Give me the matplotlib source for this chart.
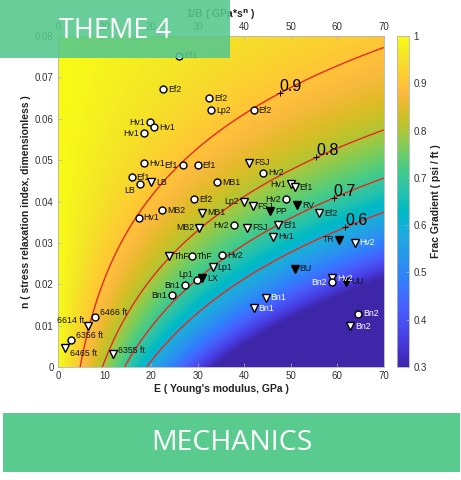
import numpy as np
import matplotlib
matplotlib.use("Agg")
import matplotlib.pyplot as plt
from matplotlib.colors import LinearSegmentedColormap
from matplotlib.patches import Rectangle

plt.rcParams['font.family'] = ['Liberation Sans', 'DejaVu Sans']

# ---------------- data ----------------
labels = ["Ef1", "Ef2", "Ef2", "Lp2", "Ef2", "Hv1", "Hv1", "Hv1", "Hv1", "Ef1",
          "Ef1", "FSJ", "Hv2", "Ef1", "LB", "LB", "MB1", "Hv1", "Ef1", "Ef2",
          "Lp2", "FSJ", "Hv2", "PP", "RV", "Ef2", "MB2", "MB1", "Hv1", "MB2",
          "Hv2", "FSJ", "Ef1", "Hv1", "TR", "Hv2", "ThF", "ThF", "Hv2", "Lp1",
          "LX", "Lp1", "Bn1", "Bn1", "BU", "Hv2", "Bn2", "UU", "Bn1", "Bn1",
          "Bn2", "Bn2", "6466 ft", "6614 ft", "6356 ft", "6465 ft", "6355 ft"]
E_vals = [26.0, 22.6, 32.4, 32.8, 42.0, 19.7, 20.7, 18.5, 18.5, 26.8,
          30.0, 41.0, 44.0, 15.8, 17.5, 20.0, 34.1, 50.1, 50.8, 29.3,
          39.9, 41.8, 49.0, 45.6, 51.4, 56.0, 22.4, 31.0, 17.3, 30.3,
          37.8, 40.6, 47.2, 46.2, 60.4, 63.7, 23.8, 28.7, 35.3, 33.2,
          31.0, 29.8, 27.3, 24.5, 50.8, 58.8, 58.8, 61.9, 44.6, 42.0,
          64.5, 62.8, 8.0, 6.4, 2.85, 1.4, 11.9]
n_vals = [0.0752, 0.0671, 0.0650, 0.0621, 0.0621, 0.0591, 0.0579, 0.0565, 0.0493, 0.0488,
          0.0488, 0.0494, 0.0470, 0.0459, 0.0442, 0.0446, 0.0446, 0.0442, 0.0435, 0.0405,
          0.0399, 0.0389, 0.0405, 0.0377, 0.0391, 0.0371, 0.0379, 0.0373, 0.0361, 0.0337,
          0.0343, 0.0337, 0.0343, 0.0315, 0.0308, 0.0300, 0.0268, 0.0268, 0.0270, 0.0241,
          0.0215, 0.0211, 0.0197, 0.0174, 0.0238, 0.0215, 0.0205, 0.0206, 0.0167, 0.0142,
          0.0129, 0.0098, 0.0121, 0.0100, 0.0066, 0.0045, 0.0031]
# o = open circle, v = open triangle, V = filled triangle
kinds = ["o", "o", "o", "o", "o", "o", "o", "o", "o", "o",
         "o", "v", "o", "o", "o", "v", "o", "v", "v", "o",
         "v", "v", "o", "V", "V", "v", "o", "v", "o", "v",
         "o", "v", "v", "v", "V", "v", "v", "o", "o", "v",
         "V", "o", "o", "o", "V", "v", "o", "V", "v", "v",
         "o", "v", "o", "v", "o", "v", "v"]

contour_levels = [0.6, 0.7, 0.8, 0.9]
contour_label_E = [61.7, 59.2, 55.5, 47.6]
fg_slope = 0.021
relax_const = 34.8

cbar_ticks = [0.3, 0.4, 0.5, 0.6, 0.7, 0.8, 0.9, 1.0]
cbar_ticklabels = ["0.3", "0.4", "0.5", "0.6", "0.7", "0.8", "0.9", "1"]
x_ticks = [0, 10, 20, 30, 40, 50, 60, 70]
y_ticks = [0, 0.01, 0.02, 0.03, 0.04, 0.05, 0.06, 0.07, 0.08]
y_ticklabels = ["0", "0.01", "0.02", "0.03", "0.04", "0.05", "0.06", "0.07", "0.08"]

# ---------------- styles ----------------
label_side = ["r", "r", "r", "r", "r", "l", "r", "l", "r", "l",
              "r", "r", "r", "r", "ld", "r", "r", "l", "r", "r",
              "l", "r", "l", "r", "r", "r", "r", "r", "r", "l",
              "l", "r", "r", "r", "l", "r", "r", "r", "r", "r",
              "r", "lu", "l", "l", "r", "r", "l", "r", "r", "r",
              "r", "r", "ru", "lu", "ru", "rd", "ru"]
white_label = {35, 45, 46, 48, 49, 50, 51}

parula = [
    [0.2422, 0.1504, 0.6603], [0.2504, 0.1650, 0.7076], [0.2578, 0.1818, 0.7511],
    [0.2647, 0.1978, 0.7952], [0.2706, 0.2147, 0.8364], [0.2751, 0.2342, 0.8710],
    [0.2783, 0.2559, 0.8991], [0.2803, 0.2782, 0.9221], [0.2813, 0.3006, 0.9414],
    [0.2810, 0.3228, 0.9579], [0.2795, 0.3447, 0.9717], [0.2760, 0.3667, 0.9829],
    [0.2699, 0.3892, 0.9906], [0.2602, 0.4123, 0.9952], [0.2440, 0.4358, 0.9988],
    [0.2206, 0.4603, 0.9973], [0.1963, 0.4847, 0.9892], [0.1834, 0.5074, 0.9798],
    [0.1786, 0.5289, 0.9682], [0.1764, 0.5499, 0.9520], [0.1687, 0.5703, 0.9359],
    [0.1540, 0.5902, 0.9218], [0.1460, 0.6091, 0.9079], [0.1380, 0.6276, 0.8973],
    [0.1248, 0.6459, 0.8883], [0.1113, 0.6635, 0.8763], [0.0952, 0.6798, 0.8598],
    [0.0689, 0.6948, 0.8394], [0.0297, 0.7082, 0.8163], [0.0036, 0.7203, 0.7917],
    [0.0067, 0.7312, 0.7660], [0.0433, 0.7411, 0.7394], [0.0964, 0.7500, 0.7120],
    [0.1408, 0.7584, 0.6842], [0.1717, 0.7670, 0.6554], [0.1938, 0.7758, 0.6251],
    [0.2161, 0.7843, 0.5923], [0.2470, 0.7918, 0.5567], [0.2906, 0.7973, 0.5188],
    [0.3406, 0.8008, 0.4789], [0.3909, 0.8029, 0.4354], [0.4456, 0.8024, 0.3909],
    [0.5044, 0.7993, 0.3480], [0.5616, 0.7942, 0.3045], [0.6174, 0.7876, 0.2612],
    [0.6720, 0.7793, 0.2227], [0.7242, 0.7698, 0.1910], [0.7738, 0.7598, 0.1646],
    [0.8203, 0.7498, 0.1535], [0.8634, 0.7406, 0.1596], [0.9035, 0.7330, 0.1774],
    [0.9393, 0.7288, 0.2100], [0.9728, 0.7298, 0.2394], [0.9956, 0.7434, 0.2371],
    [0.9970, 0.7659, 0.2199], [0.9952, 0.7893, 0.2028], [0.9892, 0.8136, 0.1885],
    [0.9786, 0.8386, 0.1766], [0.9676, 0.8639, 0.1643], [0.9610, 0.8890, 0.1537],
    [0.9597, 0.9135, 0.1423], [0.9628, 0.9373, 0.1265], [0.9691, 0.9606, 0.1064],
    [0.9769, 0.9839, 0.0805]]
cmap = LinearSegmentedColormap.from_list("parula", parula, N=256)

tick_color = "#333333"
spine_color = "#b5b5b5"

# ---------------- figure ----------------
W, H = 461, 480
fig = plt.figure(figsize=(W / 100, H / 100), dpi=100)
fig.patch.set_facecolor("white")
ax = fig.add_axes([58 / W, 113 / H, 326 / W, 331 / H])

Eg = np.linspace(0, 70, 500)
ng = np.linspace(0, 0.08, 500)
EE, NN = np.meshgrid(Eg, ng)
FG = 1.0 - fg_slope * EE * np.exp(-relax_const * NN)
im = ax.imshow(np.clip(FG, 0.3, 1.0), extent=[0, 70, 0, 0.08], origin="lower",
               aspect="auto", cmap=cmap, vmin=0.3, vmax=1.0, interpolation="bilinear")
ax.contour(EE, NN, FG, levels=contour_levels, colors="#e8291c", linewidths=1.0)

for lvl, el in zip(contour_levels, contour_label_E):
    nl = -np.log((1 - lvl) / (fg_slope * el)) / relax_const
    ax.plot(el, nl, "+", color="k", ms=4, mew=0.7, zorder=5)
    ax.annotate(f"{lvl:.1f}", (el, nl), xytext=(0, 1.5), textcoords="offset points",
                ha="left", va="baseline", fontsize=11.5, color="k", zorder=6)

offs = {"r": (3.6, 0, "left"), "l": (-3.6, 0, "right"),
        "ld": (-3.0, -4.5, "right"), "lu": (-3.0, 3.5, "right"),
        "ru": (3.6, 3.0, "left"), "rd": (3.6, -3.8, "left")}
for i, (lab, e, n, k) in enumerate(zip(labels, E_vals, n_vals, kinds)):
    if k == "o":
        ax.plot(e, n, "o", ms=5, mfc="white", mec="black", mew=1.0, zorder=7)
    elif k == "v":
        ax.plot(e, n, "v", ms=5.5, mfc="white", mec="black", mew=1.0, zorder=7)
    else:
        ax.plot(e, n, "v", ms=6.3, mfc="black", mec="black", mew=1.0, zorder=7)
    dx, dy, ha = offs[label_side[i]]
    ax.annotate(lab, (e, n), xytext=(dx, dy), textcoords="offset points",
                ha=ha, va="center", fontsize=6.3,
                color="white" if i in white_label else "#111111", zorder=8)

ax.set_xlim(0, 70)
ax.set_ylim(0, 0.08)
ax.set_xticks(x_ticks)
ax.set_yticks(y_ticks)
ax.set_yticklabels(y_ticklabels)
ax.tick_params(direction="in", length=3, width=0.5, colors=spine_color,
               labelcolor=tick_color, labelsize=7, pad=3)
ax.tick_params(axis="x", top=True)
for sp in ax.spines.values():
    sp.set_color(spine_color)
    sp.set_linewidth(0.6)
ax.set_xlabel("E ( Young's modulus, GPa )", fontsize=7.5, fontweight="bold",
              color="#222222", labelpad=2)
ax.set_ylabel("n ( stress relaxation index, dimensionless )", fontsize=7.5,
              fontweight="bold", color="#222222", labelpad=3)

sec = ax.secondary_xaxis("top")
sec.set_xticks(x_ticks)
sec.tick_params(direction="in", length=0, labelcolor=tick_color, labelsize=7, pad=3)
sec.spines["top"].set_visible(False)
sec.set_xlabel(r"1/B ( GPa*s$^\mathbf{n}$ )", fontsize=7.5, fontweight="bold",
               color="#222222", labelpad=3)

cax = fig.add_axes([397 / W, 113 / H, 12 / W, 331 / H])
cb = fig.colorbar(im, cax=cax)
cb.set_ticks(cbar_ticks)
cb.set_ticklabels(cbar_ticklabels)
cb.outline.set_edgecolor(spine_color)
cb.outline.set_linewidth(0.6)
cax.tick_params(direction="in", length=2.5, width=0.5, colors=spine_color,
                labelcolor=tick_color, labelsize=7, pad=3)
cb.set_label("Frac Gradient ( psi / ft )", fontsize=7.5, fontweight="bold",
             color="#222222", labelpad=3)

# banners
green = "#55c88c"
fig.add_artist(Rectangle((0, 1 - 58 / H), 230 / W, 58 / H, transform=fig.transFigure,
                         facecolor=green, edgecolor="none", alpha=0.88, zorder=20))
fig.text(115 / W, 1 - 31 / H, "THEME 4", color="white", fontsize=19.5,
         family=["Open Sans", "DejaVu Sans"], ha="center", va="center", zorder=21)
fig.add_artist(Rectangle((3 / W, 8 / H), 457 / W, 59 / H, transform=fig.transFigure,
                         facecolor="#5acb8e", edgecolor="none", zorder=20))
fig.text(231.5 / W, 37.5 / H, "MECHANICS", color="white", fontsize=20.5,
         family=["Open Sans", "DejaVu Sans"], ha="center", va="center", zorder=21)

fig.savefig("out.png", dpi=100)
